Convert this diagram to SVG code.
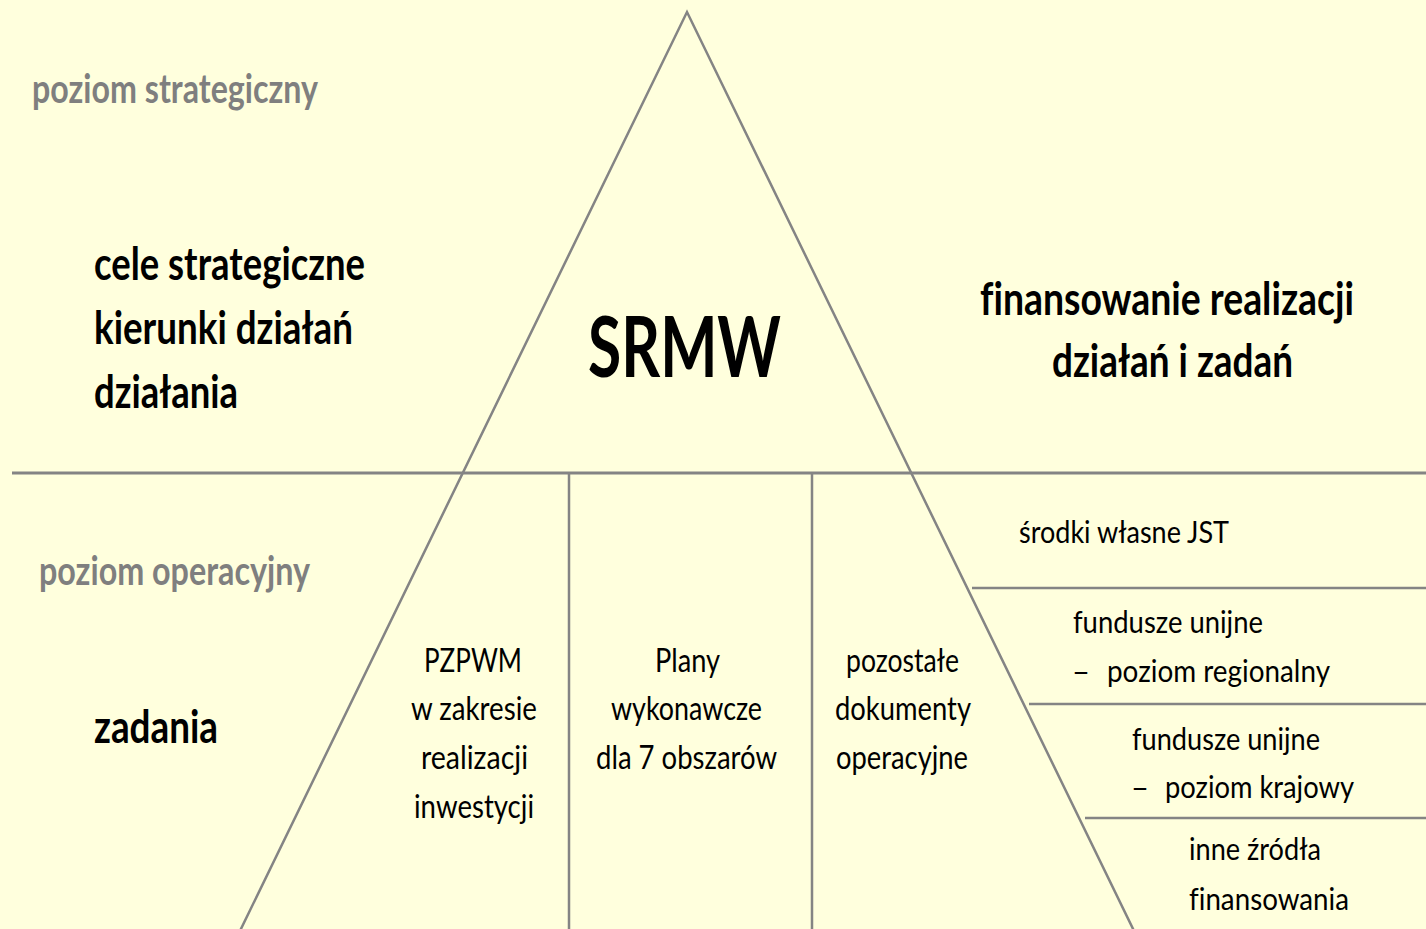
<svg xmlns="http://www.w3.org/2000/svg" width="1426" height="929" viewBox="0 0 1426 929">
<style>
.ln{stroke:#848484;stroke-width:2.5;fill:none}
.hl{stroke:#848484;stroke-width:3;fill:none}
text{font-family:Lato,"Open Sans","Liberation Sans",sans-serif;font-variant-ligatures:none;font-feature-settings:"liga" 0,"clig" 0}
.g{font-size:40px;font-weight:bold;fill:#7f7f7f}
.h{font-size:46px;font-weight:bold;fill:#000}
.big{font-size:84px;font-weight:bold;fill:#000}
.t{font-size:32px;fill:#000;text-anchor:middle}
.r{font-size:31px;fill:#000}
</style>
<rect width="1426" height="929" fill="#FFFFDD"/>
<g id="connectors">
<polyline class="ln" points="238,935 687,12 1136,935"/>
<line class="hl" x1="12" y1="473" x2="1426" y2="473"/>
<line class="ln" x1="569" y1="473" x2="569" y2="929"/>
<line class="ln" x1="812" y1="473" x2="812" y2="929"/>
<line class="ln" x1="972" y1="588" x2="1426" y2="588"/>
<line class="ln" x1="1029" y1="704" x2="1426" y2="704"/>
<line class="ln" x1="1085" y1="818" x2="1426" y2="818"/>
</g>
<g id="level-strategic">
<text class="g" x="32" y="103" textLength="286" lengthAdjust="spacingAndGlyphs">poziom strategiczny</text>
</g>
<g id="goals">
<text class="h" x="94" y="280" textLength="271" lengthAdjust="spacingAndGlyphs">cele strategiczne</text>
<text class="h" x="94" y="344" textLength="259" lengthAdjust="spacingAndGlyphs">kierunki działań</text>
<text class="h" x="94" y="408" textLength="144" lengthAdjust="spacingAndGlyphs">działania</text>
</g>
<g id="srmw">
<text class="big" x="588" y="377" textLength="193" lengthAdjust="spacingAndGlyphs">SRMW</text>
</g>
<g id="financing">
<text class="h" transform="translate(980 315) scale(0.8 1)" x="0" y="0" textLength="467.5" lengthAdjust="spacingAndGlyphs">finansowanie realizacji</text>
<text class="h" x="1052" y="377" textLength="241" lengthAdjust="spacingAndGlyphs">działań i zadań</text>
</g>
<g id="level-operational">
<text class="g" x="39" y="585" textLength="271" lengthAdjust="spacingAndGlyphs">poziom operacyjny</text>
</g>
<g id="tasks">
<text class="h" x="94" y="743" textLength="124" lengthAdjust="spacingAndGlyphs">zadania</text>
</g>
<g id="pzpwm">
<text class="t" x="473" y="672" textLength="98" lengthAdjust="spacingAndGlyphs">PZPWM</text>
<text class="t" x="474" y="720" textLength="126" lengthAdjust="spacingAndGlyphs">w zakresie</text>
<text class="t" x="474.5" y="769" textLength="107" lengthAdjust="spacingAndGlyphs">realizacji</text>
<text class="t" x="474" y="818" textLength="120" lengthAdjust="spacingAndGlyphs">inwestycji</text>
</g>
<g id="plany">
<text class="t" x="687.5" y="672" textLength="65" lengthAdjust="spacingAndGlyphs">Plany</text>
<text class="t" x="686.5" y="720" textLength="151" lengthAdjust="spacingAndGlyphs">wykonawcze</text>
<text class="t" x="686.5" y="769" textLength="181" lengthAdjust="spacingAndGlyphs">dla 7 obszarów</text>
</g>
<g id="pozostale">
<text class="t" x="902.5" y="672" textLength="113" lengthAdjust="spacingAndGlyphs">pozostałe</text>
<text class="t" x="903" y="720" textLength="136" lengthAdjust="spacingAndGlyphs">dokumenty</text>
<text class="t" x="902" y="769" textLength="132" lengthAdjust="spacingAndGlyphs">operacyjne</text>
</g>
<g id="srodki-wlasne">
<text class="r" x="1019" y="543" textLength="210" lengthAdjust="spacingAndGlyphs">środki własne JST</text>
</g>
<g id="fundusze-regionalne">
<text class="r" x="1073" y="633" textLength="190" lengthAdjust="spacingAndGlyphs">fundusze unijne</text>
<text class="r" x="1072" y="682">–</text>
<text class="r" x="1107" y="682" textLength="223" lengthAdjust="spacingAndGlyphs">poziom regionalny</text>
</g>
<g id="fundusze-krajowe">
<text class="r" x="1132" y="750" textLength="188" lengthAdjust="spacingAndGlyphs">fundusze unijne</text>
<text class="r" x="1131" y="798">–</text>
<text class="r" x="1165" y="798" textLength="189" lengthAdjust="spacingAndGlyphs">poziom krajowy</text>
</g>
<g id="inne-zrodla">
<text class="r" x="1189" y="860" textLength="132" lengthAdjust="spacingAndGlyphs">inne źródła</text>
<text class="r" x="1189" y="910" textLength="160" lengthAdjust="spacingAndGlyphs">finansowania</text>
</g>
</svg>
